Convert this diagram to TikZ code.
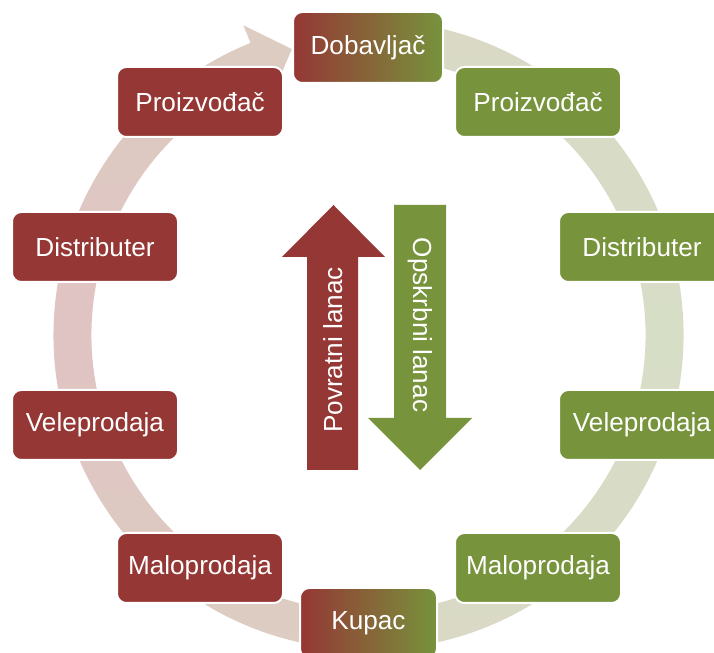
\documentclass[tikz,border=0pt]{standalone}
\usepackage{fontspec}
\setmainfont{Liberation Sans}
\usetikzlibrary{calc}
\definecolor{chainred}{HTML}{953735}
\definecolor{chaingreen}{HTML}{77933C}
\definecolor{ringred}{HTML}{E0C3C3}
\definecolor{ringredend}{HTML}{DDCDC2}
\definecolor{ringgreen}{HTML}{D7DEC6}
\definecolor{ringgreenend}{HTML}{D9D9C5}
\tikzset{
	chainbox/.style={rounded corners=7pt, draw=white, line width=1.5pt, text=white, inner sep=0pt,
		font=\fontsize{19.6}{23}\selectfont, minimum width=124.5pt, minimum height=52.5pt},
	redbox/.style={chainbox, fill=chainred},
	greenbox/.style={chainbox, fill=chaingreen},
	mixbox/.style={chainbox, left color=chainred, right color=chaingreen},
	arrowtext/.style={text=white, font=\fontsize{19.6}{23}\selectfont}
}

\begin{document}
\begin{tikzpicture}[x=0.75pt, y=0.75pt]
		%%%%% START %%%%%
		\useasboundingbox (0,0) rectangle (714,653);
		\clip (0,0) rectangle (714,653);
		\coordinate (c) at (368.5,318);
		
		% back ring, left half with its head
		\shade[top color=ringredend, bottom color=ringredend, middle color=ringred]
			($(c)+(262:315)$) arc[start angle=262, end angle=112, radius=315]
			-- ($(c)+(112:334)$) -- ($(c)+(105:296)$) -- ($(c)+(112:258)$)
			-- ($(c)+(112:277)$) arc[start angle=112, end angle=262, radius=277] -- cycle;
		
		% back ring, right half
		\shade[top color=ringgreenend, bottom color=ringgreenend, middle color=ringgreen]
			($(c)+(78:315)$) arc[start angle=78, end angle=-78, radius=315]
			-- ($(c)+(-78:277)$) arc[start angle=-78, end angle=78, radius=277] -- cycle;
		
		% middle arrows
		\fill[chainred] (307,183) -- (307,396) -- (282,396) -- (333.5,448) -- (385,396) -- (358,396) -- (358,183) -- cycle;
		\node[arrowtext, rotate=90] (povratni) at (333,303) {Povratni lanac};
		
		\fill[chaingreen] (394,448) -- (446,448) -- (446,235) -- (472,235) -- (420,183) -- (368,235) -- (394,235) -- cycle;
		\node[arrowtext, rotate=-90] (opskrbni) at (420,328) {Opskrbni lanac};
		
		% boxes
		\node[mixbox, minimum width=112.5pt, minimum height=53.25pt] (dobavljac) at (368,605.5) {Dobavljač};
		
		\node[redbox] (proizR) at (200,551) {Proizvođač};
		\node[redbox] (distR) at (95,406) {Distributer};
		\node[redbox] (veleR) at (95,228) {Veleprodaja};
		\node[redbox] (maloR) at (200,85) {Maloprodaja};
		
		\node[greenbox] (proizG) at (538,551) {Proizvođač};
		\node[greenbox] (distG) at (642,406) {Distributer};
		\node[greenbox] (veleG) at (642,228) {Veleprodaja};
		\node[greenbox] (maloG) at (538,85) {Maloprodaja};
		
		\node[mixbox, minimum width=102.75pt] (kupac) at (368.5,30) {Kupac};
		
		%%%%% END %%%%%
	\end{tikzpicture}
\end{document}
